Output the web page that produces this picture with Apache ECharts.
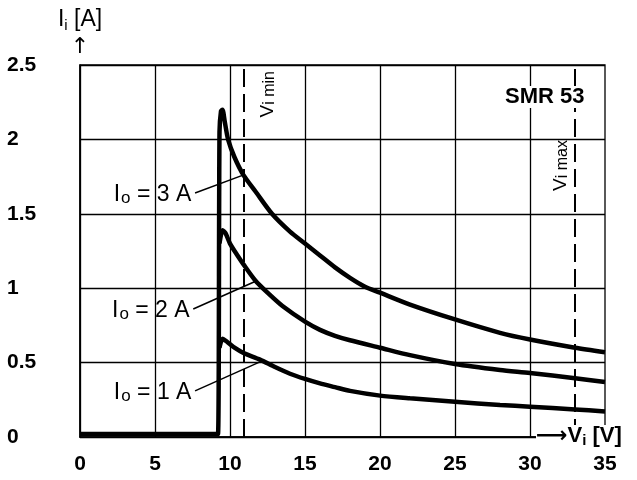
<!DOCTYPE html>
<html><head><meta charset="utf-8">
<script src="https://cdn.jsdelivr.net/npm/echarts@6/dist/echarts.min.js"></script>
<style>html,body{margin:0;padding:0;background:#fff}#c{width:637px;height:480px}</style>
</head><body><div id="c"></div>
<script>
// ---- data ----
const xTickValues = [0, 5, 10, 15, 20, 25, 30, 35];
const yTickLabels = ['0', '0.5', '1', '1.5', '2', '2.5'];
const curveIo3 = [[0,0.02],[8.5,0.02],[9.0,0.02],[9.2,0.02],[9.3,2.05],[9.4,2.19],[9.5,2.2],[9.65,2.12],[9.87,2.0],[10.3,1.88],[10.9,1.76],[11.7,1.65],[12.8,1.5],[14,1.38],[15,1.3],[16,1.22],[17,1.14],[18,1.07],[19,1.01],[20,0.97],[22,0.89],[25,0.79],[28,0.7],[30,0.655],[33,0.6],[35,0.57]];
const curveIo2 = [[9.3,1.3],[9.5,1.39],[9.7,1.37],[10,1.3],[10.5,1.22],[10.9,1.16],[11.7,1.05],[12.5,0.97],[13.5,0.88],[15,0.775],[16,0.72],[17,0.68],[18,0.65],[20,0.6],[22,0.55],[25,0.49],[28,0.45],[30,0.43],[33,0.395],[35,0.37]];
const curveIo1 = [[9.3,0.6],[9.5,0.66],[9.8,0.64],[10.3,0.6],[10.9,0.565],[12,0.52],[13,0.47],[14,0.425],[15,0.39],[16,0.36],[17,0.335],[18,0.31],[20,0.278],[22,0.26],[25,0.237],[28,0.215],[30,0.204],[33,0.185],[35,0.172]];
const outputCurrents = ['3 A', '2 A', '1 A'];
const leaderFrom = [[7.67,1.64],[7.55,0.86],[7.67,0.31]];
const leaderTo = [[10.87,1.76],[11.67,1.045],[12.0,0.505]];
const voltageLimits = [10.9, 33];
const limitNames = ['min', 'max'];

const FONT = 'Liberation Sans, Arial, sans-serif';
const curves = [curveIo3, curveIo2, curveIo1];

const labelRich = {
  t: {fontSize: 23, fontFamily: FONT, color: '#000', lineHeight: 24},
  s: {fontSize: 17, fontFamily: FONT, color: '#000', lineHeight: 17, verticalAlign: 'bottom', padding: [0, 0, 0, 1]}
};
const limitRich = {
  t: {fontSize: 19, fontFamily: FONT, color: '#000', lineHeight: 20},
  s: {fontSize: 16, fontFamily: FONT, color: '#000', lineHeight: 14, verticalAlign: 'bottom'}
};

const series = curves.map((c, i) => ({
  type: 'line',
  data: c,
  showSymbol: false,
  smooth: 0.25,
  lineStyle: {color: '#000', width: 4.5},
  z: 5,
  markLine: {
    silent: true, symbol: 'none', animation: false,
    lineStyle: {color: '#000', width: 1.5, type: 'solid'},
    label: {
      show: true, position: 'start', distance: 4, fontSize: 23, fontFamily: FONT, color: '#000',
      formatter: '{t|I}{s|o}{t| = ' + outputCurrents[i] + '}',
      rich: labelRich
    },
    data: [[{coord: leaderFrom[i]}, {coord: leaderTo[i]}]]
  }
}));

series.push({
  type: 'line', data: [], z: 3,
  markLine: {
    silent: true, symbol: 'none', animation: false,
    lineStyle: {color: '#000', width: 2, type: [18, 7]},
    label: {show: true, fontSize: 19, fontFamily: FONT, color: '#000', rich: limitRich},
    data: voltageLimits.map((v, i) => ({
      xAxis: v,
      label: {
        show: true, fontSize: 19, fontFamily: FONT, color: '#000',
        position: i === 0 ? 'insideEndBottom' : 'insideEndTop',
        distance: i === 0 ? [6, 14] : [75, 4],
        formatter: '{t|V}{s|i ' + limitNames[i] + '}',
        rich: limitRich
      }
    }))
  }
});

const chart = echarts.init(document.getElementById('c'));
chart.setOption({
  animation: false,
  backgroundColor: '#fff',
  title: [{
    text: 'SMR 53', left: 503, top: 86, padding: [0, 2, 0, 2], backgroundColor: '#fff', z: 20,
    textStyle: {fontFamily: FONT, fontSize: 22, fontWeight: 'bold', color: '#000'}
  }, {
    // x-axis title with its arrow, drawn over the bottom-right corner like the reference
    text: '{a|⟶}{t|V}{s|i}{t| [V]}',
    left: 536, top: 424, padding: [0, 0, 0, 0], backgroundColor: '#fff', z: 20,
    textStyle: {
      rich: {
        a: {fontSize: 22, fontFamily: 'DejaVu Sans', color: '#000', lineHeight: 24},
        t: {fontSize: 22, fontFamily: FONT, color: '#000', lineHeight: 24},
        s: {fontSize: 15, fontFamily: FONT, color: '#000', lineHeight: 15, verticalAlign: 'bottom'}
      }
    }
  }],
  grid: {left: 80, right: 32, top: 65, bottom: 43, containLabel: false,
         show: true, borderColor: '#000', borderWidth: 1.3, backgroundColor: 'transparent'},
  xAxis: {
    type: 'value', min: 0, max: 35, interval: 5,
    axisLine: {show: true, lineStyle: {color: '#000', width: 1.5}},
    axisTick: {show: false},
    splitLine: {show: true, showMaxLine: false, lineStyle: {color: '#000', width: 1.3}},
    axisLabel: {
      margin: 17, color: '#000', fontFamily: FONT, fontSize: 21, fontWeight: 'bold',
      formatter: v => xTickValues.includes(v) ? String(v) : ''
    }
  },
  yAxis: {
    type: 'value', min: 0, max: 2.5, interval: 0.5,
    name: '{t|I}{s|i}{t| [A]}\n{a|↑}',
    nameLocation: 'end', nameGap: 4,
    nameTextStyle: {
      align: 'center', verticalAlign: 'bottom',
      rich: {
        a: {fontSize: 22, fontFamily: 'DejaVu Sans', color: '#000', lineHeight: 28, align: 'center'},
        t: {fontSize: 23, fontFamily: FONT, color: '#000', lineHeight: 26},
        s: {fontSize: 15, fontFamily: FONT, color: '#000', lineHeight: 16, verticalAlign: 'bottom'}
      }
    },
    axisLine: {show: true, lineStyle: {color: '#000', width: 1.5}},
    axisTick: {show: false},
    splitLine: {show: true, lineStyle: {color: '#000', width: 1.3}},
    axisLabel: {
      margin: 73, align: 'left', color: '#000', fontFamily: FONT, fontSize: 21, fontWeight: 'bold',
      padding: [0, 0, 12, 0],
      formatter: (v) => yTickLabels[Math.round(v / 0.5)] || ''
    }
  },
  series: series
});
</script>
</body></html>
